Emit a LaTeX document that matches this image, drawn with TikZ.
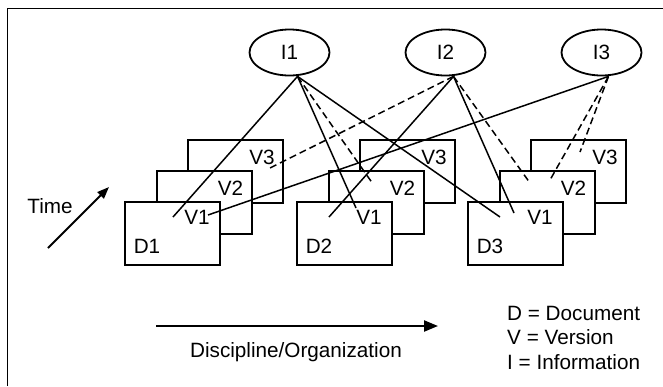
\documentclass[tikz,border=0pt]{standalone}
\usepackage{fontspec}
\setmainfont{Liberation Sans}
\usetikzlibrary{arrows.meta,shapes.geometric}
\begin{document}
\begin{tikzpicture}[x=1pt,y=-1pt,
  txt/.style={inner sep=0pt, font=\fontsize{20.7}{24}\selectfont},
  box/.style={draw, line width=2pt, fill=white, minimum width=95pt, minimum height=63pt, inner sep=0pt},
  info/.style={draw, ellipse, line width=1.8pt, minimum width=80pt, minimum height=46pt, inner sep=0pt, font=\fontsize{20.7}{24}\selectfont},
  lbl/.style={txt, anchor=base},
  link/.style={line width=1.5pt},
  dlink/.style={link, dash pattern=on 7pt off 4pt},
  bigarrow/.style={line width=2.2pt, -{Triangle[length=14pt,width=11pt]}},
  timearrow/.style={line width=2pt, -{Triangle[length=12pt,width=9pt]}},
]
\useasboundingbox (0,0) rectangle (663,386);
\draw[line width=1pt] (7.5,386) -- (7.5,8.5) -- (663,8.5);

% information ellipses
\node[info] (I1) at (289.5,52.5) {I1};
\node[info] (I2) at (445.5,52.5) {I2};
\node[info] (I3) at (601.5,52.5) {I3};
\coordinate (I1s) at ([xshift=8pt]I1.south);
\coordinate (I2s) at ([xshift=8pt]I2.south);
\coordinate (I3s) at ([xshift=7pt]I3.south);

% documents with versions
\foreach \n/\x in {1/125,2/297,3/468}{
  \node[box] (D\n V3) at (\x+110.5,171) {};
  \node[lbl] (D\n L3) at ([xshift=-22pt,yshift=-26pt]D\n V3.north east) {V3};
  \node[box] (D\n V2) at (\x+79,202.5) {};
  \node[lbl] (D\n L2) at ([xshift=-22pt,yshift=-25pt]D\n V2.north east) {V2};
  \node[box] (D\n V1) at (\x+47.5,233) {};
  \node[lbl] (D\n L1) at ([xshift=-24pt,yshift=-24pt]D\n V1.north east) {V1};
  \node[lbl] (D\n N) at ([xshift=23pt,yshift=12pt]D\n V1.south west) {D\n};
}

% free ends of the links
\coordinate (a1) at (173,217);
\coordinate (a2) at (356,208);
\coordinate (a3) at (373,184);
\coordinate (a4) at (500,217);
\coordinate (b1) at (270,168);
\coordinate (b2) at (329,217);
\coordinate (b3) at (514,213);
\coordinate (b4) at (530,183);
\coordinate (c1) at (208,215);
\coordinate (c2) at (550,180);
\coordinate (c3) at (580,152);

\draw[link]  (I1s) -- (a1);
\draw[link]  (I1s) -- (a2);
\draw[dlink] (I1s) -- (a3);
\draw[link]  (I1s) -- (a4);
\draw[dlink] (I2s) -- (b1);
\draw[link]  (I2s) -- (b2);
\draw[link]  (I2s) -- (b3);
\draw[dlink] (I2s) -- (b4);
\draw[link]  (I3s) -- (c1);
\draw[dlink] (I3s) -- (c2);
\draw[dlink] (I3s) -- (c3);

% time axis
\coordinate (t0) at (48,248);
\coordinate (t1) at (109,187);
\draw[timearrow] (t0) -- (t1);
\node[lbl] (time) at (50,213) {Time};

% discipline axis
\coordinate (d0) at (156,326);
\coordinate (d1) at (438,326);
\draw[bigarrow] (d0) -- (d1);
\node[lbl] (disc) at (296,357) {Discipline/Organization};

% legend
\node[txt, anchor=base west] (leg1) at (507,320) {D = Document};
\node[txt, anchor=base west] (leg2) at (507,344.5) {V = Version};
\node[txt, anchor=base west] (leg3) at (507,369) {I = Information};
\end{tikzpicture}
\end{document}
